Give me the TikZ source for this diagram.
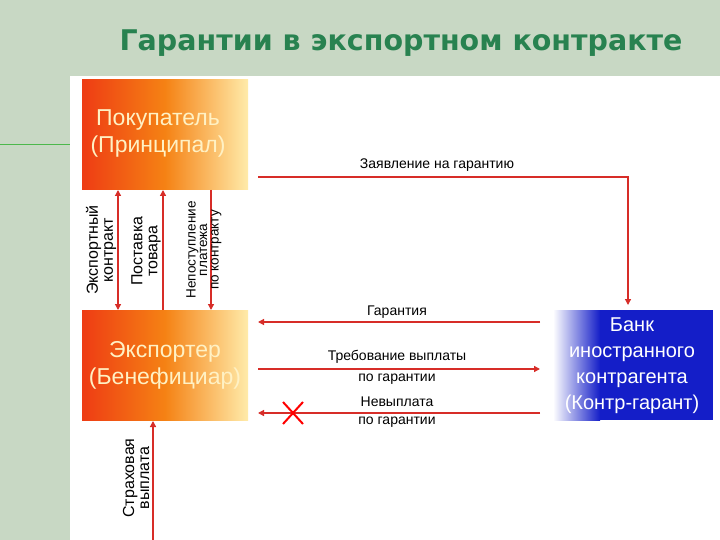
\documentclass[tikz,border=0pt]{standalone}
\usepackage{fontspec}
\setmainfont{Liberation Sans}
\newfontfamily\titlefont{DejaVu Sans}
\usetikzlibrary{arrows.meta}
\definecolor{bgg}{RGB}{200,216,196}
\definecolor{ttl}{RGB}{40,130,80}
\definecolor{ared}{RGB}{215,45,40}
\definecolor{rr}{RGB}{238,60,20}
\definecolor{oo}{RGB}{245,130,20}
\definecolor{yy}{RGB}{255,235,170}
\definecolor{bb}{RGB}{20,30,200}
\tikzset{
 arr/.style={draw=ared,line width=1.3pt,-{Triangle[length=6pt,width=6pt]}},
 lbl/.style={font=\fontsize{14}{15}\selectfont,align=center,inner sep=1pt},
 vlbl/.style={font=\fontsize{16}{15}\selectfont,align=center,rotate=90,inner sep=1pt},
 boxtxt/.style={font=\fontsize{23}{27}\selectfont,align=center,text=white}
}
\begin{document}
\begin{tikzpicture}[x=1pt,y=-1pt]
\useasboundingbox (0,0) rectangle (720,540);
\fill[bgg] (0,0) rectangle (720,540);
\fill[white] (70,76) rectangle (720,540);
\draw[green!60!black!70,line width=1pt] (0,145) -- (70,145);
\node[font=\titlefont\bfseries\fontsize{28.5}{30}\selectfont,text=ttl] (title) at (401,43) {Гарантии в экспортном контракте};
% boxes
\shade[left color=rr,right color=yy,middle color=oo] (82,80) rectangle (248,190);
\node[boxtxt,text=yy!70!white] (buyer) at (158,133) {Покупатель\\(Принципал)};
\shade[left color=rr,right color=yy,middle color=oo] (82,310) rectangle (248,420);
\node[boxtxt,text=yy!70!white] (exp) at (165,365) {Экспортер\\(Бенефициар)};
\fill[bb] (598,310) rectangle (713,420);
\shade[left color=white,right color=bb] (553,310) rectangle (600,420);
\node[boxtxt,font=\fontsize{20}{26}\selectfont] (bank) at (632,366) {Банк\\иностранного\\контрагента\\(Контр-гарант)};
% vertical arrows
\coordinate (b1) at (118,190); \coordinate (e1) at (118,310);
\coordinate (b2) at (163,190); \coordinate (e2) at (163,310);
\coordinate (b3) at (211,190); \coordinate (e3) at (211,310);
\draw[arr,{Triangle[length=6pt,width=6pt]}-{Triangle[length=6pt,width=6pt]}] (b1) -- (e1);
\draw[arr] (e2) -- (b2);
\draw[arr] (b3) -- (e3);
\node[vlbl] (l1) at (101,250) {Экспортный\\контракт};
\node[vlbl] (l2) at (146,251) {Поставка\\товара};
\node[vlbl,font=\fontsize{13.5}{11.5}\selectfont] (l3) at (204,250) {Непоступление\\платежа\\по контракту};
% application
\coordinate (s1) at (258,177); \coordinate (c1) at (628,177); \coordinate (t1) at (628,305);
\draw[arr] (s1) -- (c1) -- (t1);
\node[lbl] (la) at (437,165) {Заявление на гарантию};
% guarantee
\coordinate (g1) at (540,322); \coordinate (g2) at (258,322);
\draw[arr] (g1) -- (g2);
\node[lbl] (lg) at (397,312) {Гарантия};
\coordinate (r1) at (258,369); \coordinate (r2) at (540,369);
\draw[arr] (r1) -- (r2);
\node[lbl] (lr1) at (397,357) {Требование выплаты};
\node[lbl] (lr2) at (397,379) {по гарантии};
\coordinate (n1) at (540,413); \coordinate (n2) at (258,413);
\draw[arr] (n1) -- (n2);
\node[lbl] (ln1) at (397,402) {Невыплата};
\node[lbl] (ln2) at (397,422) {по гарантии};
\coordinate (x0) at (293,413);
\draw[red,line width=2pt] ([shift={(-10,-11)}]x0) -- ([shift={(10,11)}]x0) ([shift={(10,-11)}]x0) -- ([shift={(-10,11)}]x0);
% insurance
\coordinate (i1) at (153,540); \coordinate (i2) at (153,421);
\draw[arr] (i1) -- (i2);
\node[vlbl] (li) at (136,478) {Страховая\\выплата};
\end{tikzpicture}
\end{document}
